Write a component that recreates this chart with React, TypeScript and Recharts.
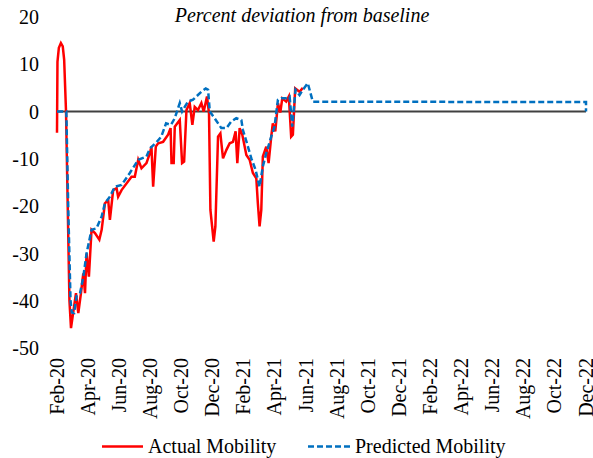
import React from 'react'
import { LineChart, Line, XAxis, YAxis, ReferenceLine } from 'recharts'

// x = months since Feb-20, y = percent deviation from baseline
const actualPoints: [number, number][] = [
  [0, -4.5], [0.03, 10.5], [0.12, 13.5], [0.25, 14.5], [0.37, 13.8], [0.46, 11],
  [0.58, 0], [0.7, -22], [0.8, -40], [0.9, -45.8], [1.05, -42.3], [1.22, -38.4],
  [1.37, -42.6], [1.54, -38.4], [1.69, -34.2], [1.8, -38.4], [1.9, -30], [2.05, -34.9],
  [2.22, -25], [2.44, -25.7], [2.72, -27.1], [2.87, -25], [3.08, -19.4], [3.29, -18.7],
  [3.4, -22.9], [3.61, -16.6], [3.83, -16.2], [3.93, -18], [4.15, -16.6], [4.79, -13.8],
  [5.0, -13.8], [5.22, -10.2], [5.43, -12], [5.75, -10.9], [5.97, -8.8], [6.07, -7.4],
  [6.18, -15.9], [6.35, -7.4], [6.5, -6.7], [6.82, -6.4], [7.14, -4.9], [7.3, -3.5],
  [7.36, -10.9], [7.5, -10.9], [7.57, -3.2], [7.89, -1.8], [8.04, -10.9], [8.17, -10.6],
  [8.32, 0.3], [8.53, 1.8], [8.7, -2.8], [8.85, 1], [9.06, 0.3], [9.28, 1.8],
  [9.43, 0], [9.64, 3.2], [9.77, -0.4], [9.86, -20.8], [10.07, -27.5], [10.18, -24.3],
  [10.35, -5.3], [10.5, -4.6], [10.67, -9.9], [10.89, -8.1], [11.1, -6.7], [11.31, -6.4],
  [11.48, -4.2], [11.59, -10.9], [11.74, -3.5], [11.91, -4.9], [12.17, -9.2], [12.38, -10.2],
  [12.59, -13], [12.81, -14.1], [12.91, -19.4], [13.02, -24.3], [13.13, -20.8], [13.23, -9.5],
  [13.45, -7.4], [13.6, -10.9], [13.77, -5.3], [13.87, -2.5], [14.03, -4.2], [14.2, 1.8],
  [14.35, -0.2], [14.48, 2.8], [14.73, 2.1], [14.9, 3.2], [15.05, -5.3], [15.16, -4.9],
  [15.31, 4.9], [15.59, 4.2], [15.8, 5.0],
]

const predictedPoints: [number, number][] = [
  [0, 0], [0.6, 0], [0.72, -20], [0.87, -40], [0.95, -42.5], [1.1, -42.6],
  [1.26, -39], [1.48, -38.4], [1.69, -35], [1.9, -30], [2.22, -25], [2.54, -24.7],
  [2.87, -22.2], [3.08, -19.4], [3.4, -18], [3.72, -15.9], [4.15, -15.5], [4.68, -13],
  [5.22, -10.2], [5.75, -9.5], [5.97, -7.8], [6.39, -6.5], [6.7, -5.3], [7.01, -2.5],
  [7.33, -2.8], [7.57, -1.4], [7.89, 1.8], [8.04, 0], [8.21, 1], [8.42, 2.1],
  [8.74, 2.5], [8.96, 3.2], [9.28, 4.2], [9.56, 4.9], [9.71, 4.6], [9.82, 0],
  [10.13, -1.4], [10.56, -3.5], [10.89, -3.5], [11.2, -2.1], [11.52, -1.4], [11.85, -1.8],
  [11.95, -3.9], [12.27, -7.4], [12.49, -9.9], [12.76, -12.3], [13.02, -15.9], [13.23, -11.6],
  [13.45, -8.8], [13.77, -5.3], [13.98, -3.2], [14.2, 2.5], [14.41, 2.8], [14.73, 2.8],
  [14.95, 3.2], [15.12, -3.2], [15.33, 4.6], [15.59, 3.5], [15.8, 4.6], [16.12, 6],
  [16.44, 2.1], [34, 2], [34, 0],
]

const xTickLabels = [
  'Feb-20', 'Apr-20', 'Jun-20', 'Aug-20', 'Oct-20', 'Dec-20',
  'Feb-21', 'Apr-21', 'Jun-21', 'Aug-21', 'Oct-21', 'Dec-21',
  'Feb-22', 'Apr-22', 'Jun-22', 'Aug-22', 'Oct-22', 'Dec-22',
]
const xTicks = xTickLabels.map((_, i) => i * 2)
const yTicks = [-50, -40, -30, -20, -10, 0, 10, 20]

const actualData = actualPoints.map(([m, v]) => ({ m, v }))
const predictedData = predictedPoints.map(([m, v]) => ({ m, v }))

const FONT = '"Liberation Serif", "Times New Roman", serif'

const MonthTick = ({ x, y, payload }: any) => (
  <text
    x={x}
    y={y}
    transform={`rotate(-90, ${x}, ${y})`}
    textAnchor="end"
    dy="0.33em"
    fontSize={20}
    fontFamily={FONT}
    fill="#000"
  >
    {xTickLabels[payload.value / 2]}
  </text>
)

const App = () => {
  return (
    <div style={{ position: 'absolute', left: 0, top: 0, width: 593, height: 458, background: '#fff' }}>
      <LineChart
        width={593}
        height={458}
        margin={{ top: 17, right: 7, bottom: 80, left: 0 }}
      >
        <XAxis
          dataKey="m"
          type="number"
          domain={[0, 34]}
          ticks={xTicks}
          interval={0}
          height={30}
          axisLine={false}
          tickLine={false}
          tickSize={0}
          tickMargin={10}
          tick={<MonthTick />}
          allowDuplicatedCategory={false}
        />
        <YAxis
          width={57}
          domain={[-50, 20]}
          ticks={yTicks}
          interval={0}
          axisLine={false}
          tickLine={false}
          tickSize={0}
          tickMargin={18}
          tick={{ fontSize: 20, fill: '#000', fontFamily: FONT }}
        />
        <ReferenceLine y={0} stroke="#404040" strokeWidth={2} />
        <Line
          data={actualData}
          dataKey="v"
          type="linear"
          stroke="#FF0000"
          strokeWidth={2.5}
          dot={false}
          isAnimationActive={false}
        />
        <Line
          data={predictedData}
          dataKey="v"
          type="linear"
          stroke="#0070C0"
          strokeWidth={2.5}
          strokeDasharray="6 3"
          dot={false}
          isAnimationActive={false}
        />
      </LineChart>
      <svg width={593} height={458} style={{ position: 'absolute', left: 0, top: 0, pointerEvents: 'none' }}>
        <text x={302} y={22} textAnchor="middle" fontSize={20} fontStyle="italic" fontFamily={FONT} fill="#000">
          Percent deviation from baseline
        </text>
        <line x1={102} x2={143} y1={446.5} y2={446.5} stroke="#FF0000" strokeWidth={2.5} />
        <text x={148} y={453} fontSize={20} fontFamily={FONT} fill="#000">Actual Mobility</text>
        <line x1={308} x2={352} y1={446.5} y2={446.5} stroke="#0070C0" strokeWidth={2.5} strokeDasharray="6 3" />
        <text x={355} y={453} fontSize={20} fontFamily={FONT} fill="#000">Predicted Mobility</text>
      </svg>
    </div>
  )
}

export default App
